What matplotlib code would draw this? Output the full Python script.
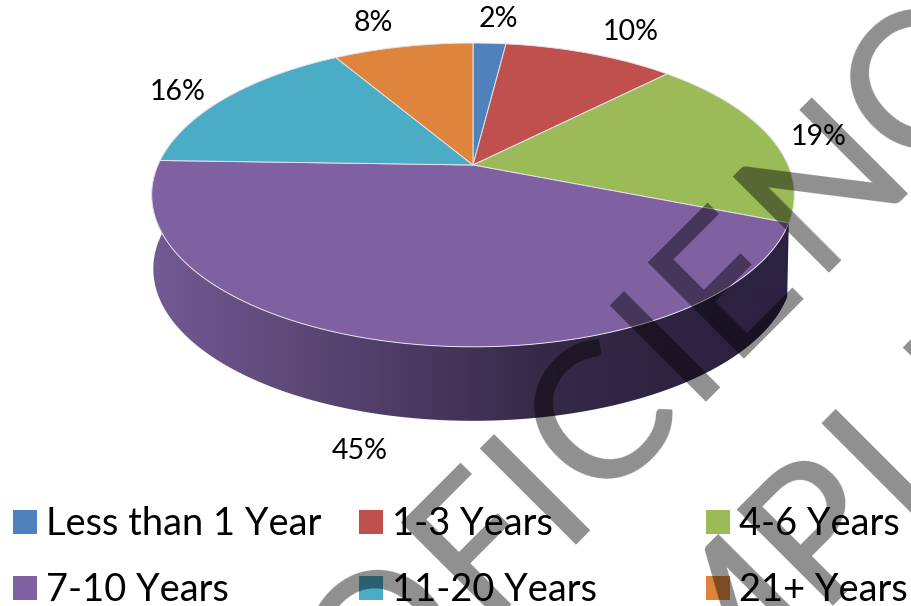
import numpy as np
import matplotlib
matplotlib.use('Agg')
import matplotlib.pyplot as plt
from matplotlib.colors import LinearSegmentedColormap
from matplotlib.patches import Polygon, Rectangle

plt.rcParams['font.family'] = ['Lato', 'DejaVu Sans']

# data
categories = ['Less than 1 Year', '1-3 Years', '4-6 Years', '7-10 Years', '11-20 Years', '21+ Years']
values = [2.0, 10.4, 18.6, 44.5, 16.0, 8.5]
pct_labels = ['2%', '10%', '19%', '45%', '16%', '8%']
colors = ['#4F81BD', '#C0504D', '#9BBB59', '#7F60A0', '#4BACC6', '#DE843C']

# label centres in pixels
label_x = [498, 631, 819, 360, 178, 373]
label_y = [19, 32, 137, 451, 92, 23]

# watermark letters, centre of each glyph in pixels
wm_letters = ['O', 'F', 'I', 'C', 'I', 'E', 'N', 'C', 'M', 'P', 'L', 'E']
wm_x = [378, 470, 530, 593, 660, 718, 816, 909, 711, 809, 888, 973]
wm_y = [634, 533, 478, 411, 335, 272, 174, 81, 621, 517, 437, 357]

# pie projection, pixels
CX, CY = 473, 165
RX, RY, K = 315, 146, 0.197
DEPTH = 74


def rim(a):
    # a = clockwise angle from the top, radians
    u, v = np.sin(a), np.cos(a)
    d = 1 + K * v
    return CX + RX * u / d, CY - RY * v / d


fig = plt.figure(figsize=(9.12, 6.06), dpi=100)
ax = fig.add_axes([0, 0, 1, 1])
ax.axis('off')

edges = np.cumsum([0] + values) / sum(values) * 2 * np.pi

# side wall of the big slice, shaded left to right
a = np.linspace(edges[3], edges[4], 200)
x, y = rim(a)
xb = CX + (x - CX) * 0.995
side = Polygon(np.r_[np.c_[x, y], np.c_[xb[::-1], y[::-1] + DEPTH]], closed=True, transform=ax.transData, fc='none', ec='none')
ax.add_patch(side)
cmap = LinearSegmentedColormap.from_list('side', ['#735A94', '#604A7A', '#4C3A63', '#352A48', '#2E2440', '#2B2140'])
img = ax.imshow(np.linspace(0, 1, 256)[None, :], cmap=cmap, extent=[150, 796, 430, 150], aspect='auto', zorder=1)
img.set_clip_path(side)
ax.set_xlim(0, 912)
ax.set_ylim(606, 0)

# top of the pie
for i, c in enumerate(colors):
    a = np.linspace(edges[i], edges[i + 1], 120)
    x, y = rim(a)
    ax.fill(np.r_[CX, x], np.r_[CY, y], fc=c, ec='#E6E1EA', lw=0.7, zorder=2)

for x, y, s in zip(label_x, label_y, pct_labels):
    ax.text(x, y, s, fontsize=20.5, ha='center', va='center', color='black', zorder=3)

# legend
leg_x = [13, 359, 706]
leg_y = [510, 576]
for i, (name, c) in enumerate(zip(categories, colors)):
    px, py = leg_x[i % 3], leg_y[i // 3]
    ax.add_patch(Rectangle((px, py), 24, 24, fc=c, ec='none', zorder=3))
    ax.text(px + 33, py + 14, name, fontsize=27.4, ha='left', va='center', color='black', zorder=3)

# watermark, one letter at a time because of the wide tracking
for s, x, y in zip(wm_letters, wm_x, wm_y):
    ax.text(x + 48, y + 48, s, fontsize=137, fontweight='medium', color='black', alpha=0.44, rotation=45,
            rotation_mode='anchor', ha='center', va='baseline', zorder=5, clip_on=True)

fig.savefig('out.png', dpi=100)
